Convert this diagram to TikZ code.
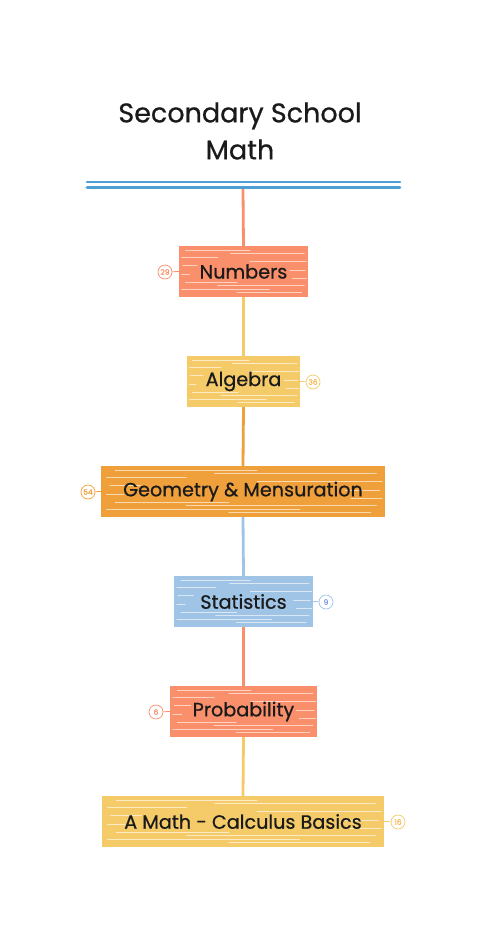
\documentclass[tikz,border=0pt]{standalone}
\usepackage{fontspec}
\setmainfont{Poppins}[FakeBold=0.7]
\usetikzlibrary{calc}
\definecolor{blueline}{HTML}{4E9FD4}
\definecolor{salmon}{HTML}{FA8F6B}
\definecolor{yel}{HTML}{F5CB6A}
\definecolor{orng}{HTML}{F0A03A}
\definecolor{lblue}{HTML}{A0C4E6}
\definecolor{ink}{HTML}{1A1A1A}
\tikzset{
  box/.style={rectangle, inner sep=0pt, text=ink, font=\fontsize{19.2}{23}\selectfont},
  badge/.style={circle, draw, fill=white, line width=0.7pt, minimum size=14pt, inner sep=0pt, font=\fontsize{7.5}{8}\selectfont},
  conn/.style={line width=2.8pt},
  blink/.style={line width=0.8pt},
  streak/.style={white, line width=0.9pt, opacity=0.6, line cap=round}
}
\newcommand\streaks[4]{%
  \foreach \fy/\ax/\bx in {0.09/0.05/0.55, 0.15/0.40/0.97, 0.23/0.02/0.30, 0.31/0.55/0.99, 0.39/0.03/0.14, 0.47/0.86/0.98, 0.56/0.02/0.08, 0.63/0.88/0.99, 0.71/0.05/0.45, 0.77/0.30/0.97, 0.85/0.02/0.70, 0.92/0.45/0.95}{%
    \draw[streak] ({#1+\ax*(#3-#1)},{#2+\fy*(#4-#2)}) -- ({#1+\bx*(#3-#1)},{#2+\fy*(#4-#2)});
  }%
}
\begin{document}
\begin{tikzpicture}[x=1pt,y=-1pt]
\useasboundingbox[fill=white] (0,0) rectangle (486,927);
% title
\node[text=ink, font=\fontsize{27}{37}\selectfont, align=center] (title) at (240,131) {Secondary School\\Math};
% double blue line
\draw[blueline, line width=2.6pt, line cap=round] (87,182) -- (400,182);
\draw[blueline, line width=2.6pt, line cap=round] (87,187.5) -- (400,187.5);
\coordinate (root) at (243,189);
% boxes
\fill[salmon] (179,246) rectangle (308,297); \streaks{179}{246}{308}{297}
\node[box, minimum width=129pt, minimum height=51pt] (n1) at (243.5,271.5) {Numbers};
\fill[yel] (187,356) rectangle (300,407); \streaks{187}{356}{300}{407}
\node[box, minimum width=113pt, minimum height=51pt] (n2) at (243.5,381.5) {Algebra};
\fill[orng] (101,466) rectangle (385,517); \streaks{101}{466}{385}{517}
\node[box, minimum width=284pt, minimum height=51pt] (n3) at (243,491.5) {Geometry \& Mensuration};
\fill[lblue] (174,576) rectangle (313,627); \streaks{174}{576}{313}{627}
\node[box, minimum width=139pt, minimum height=51pt] (n4) at (243.5,601.5) {Statistics};
\fill[salmon] (170,686) rectangle (317,737); \streaks{170}{686}{317}{737}
\node[box, minimum width=147pt, minimum height=51pt] (n5) at (243.5,711.5) {Probability};
\fill[yel] (102,796) rectangle (384,847); \streaks{102}{796}{384}{847}
\node[box, minimum width=282pt, minimum height=51pt] (n6) at (243,821.5) {A Math - Calculus Basics};
% connectors
\draw[conn, salmon] (root) -- (n1.north);
\draw[conn, yel] (n1.south) -- (n2.north);
\draw[conn, orng] (n2.south) -- (n3.north);
\draw[conn, lblue] (n3.south) -- (n4.north);
\draw[conn, salmon] (n4.south) -- (n5.north);
\draw[conn, yel] (n5.south) -- (n6.north);
% badges
\node[badge, draw=salmon, text=salmon] (b1) at (165,272) {29};
\draw[blink, salmon] (b1) -- (n1.west);
\node[badge, draw=yel, text=yel!80!orange] (b2) at (313,382) {36};
\draw[blink, yel] (b2) -- (n2.east);
\node[badge, draw=orng, text=orng] (b3) at (88,492) {54};
\draw[blink, orng] (b3) -- (n3.west);
\node[badge, draw=lblue, text=lblue!80!blue] (b4) at (326,602) {9};
\draw[blink, lblue] (b4) -- (n4.east);
\node[badge, draw=salmon, text=salmon] (b5) at (156,712) {6};
\draw[blink, salmon] (b5) -- (n5.west);
\node[badge, draw=yel, text=yel!80!orange] (b6) at (398,822) {16};
\draw[blink, yel] (b6) -- (n6.east);
\end{tikzpicture}
\end{document}
